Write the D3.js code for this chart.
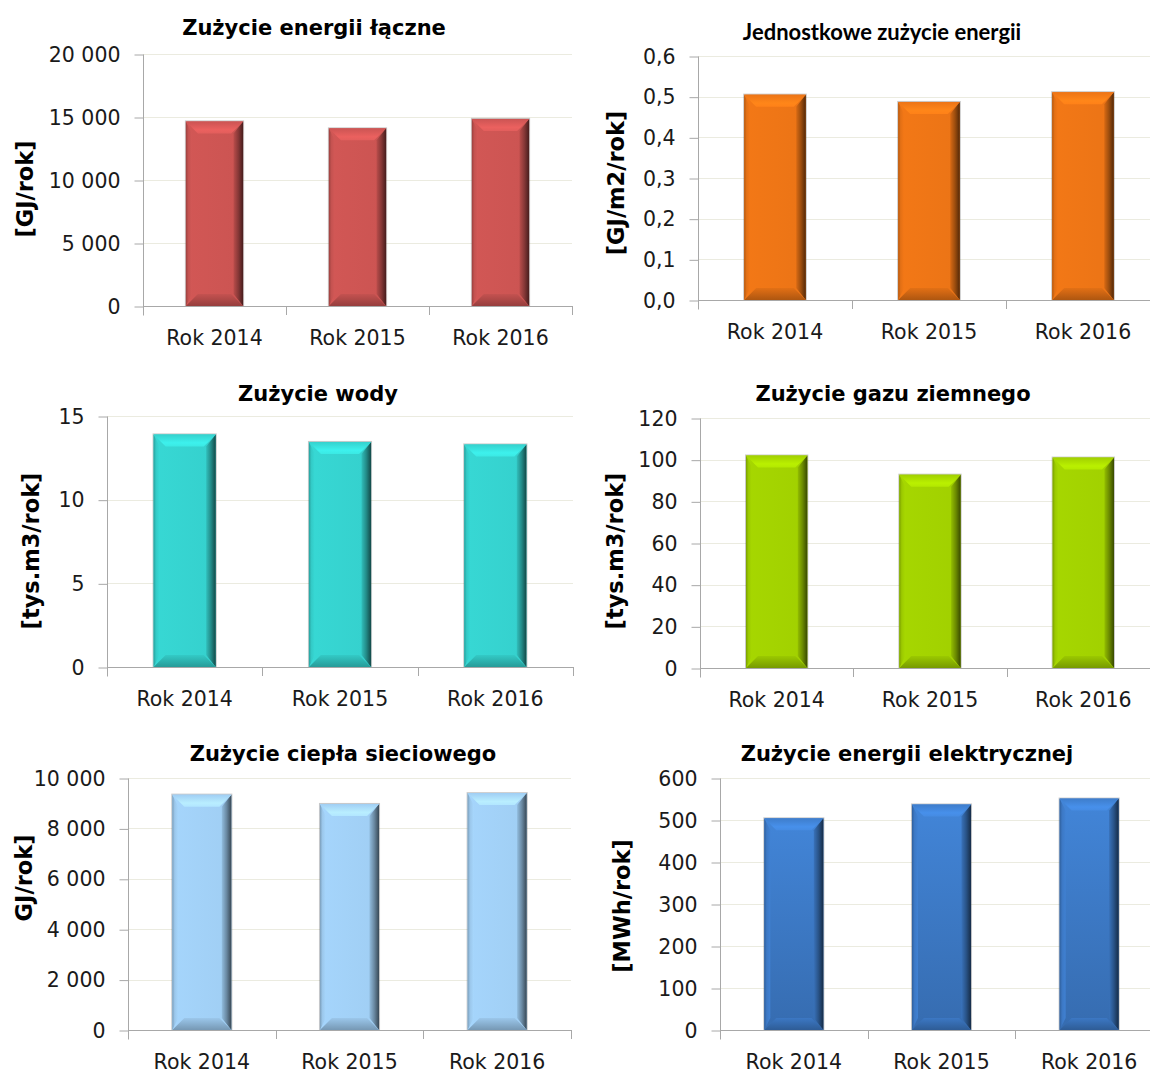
<!DOCTYPE html>
<html>
<head>
<meta charset="utf-8">
<script src="https://cdn.jsdelivr.net/npm/d3@7"></script>
<style>
  html, body { margin: 0; padding: 0; background: #fff; }
  svg { display: block; }
</style>
</head>
<body>
<svg id="chart" width="1150" height="1073"></svg>
<script>
// ---------- DATA ----------
const categories = ["Rok 2014", "Rok 2015", "Rok 2016"];

const energyTotal = [14650, 14100, 14850];      // GJ/rok
const energyUnit  = [0.505, 0.487, 0.511];      // GJ/m2/rok
const water       = [13.9, 13.45, 13.3];        // tys.m3/rok
const gas         = [102, 92.8, 101];           // tys.m3/rok
const heat        = [9340, 8970, 9400];         // GJ/rok
const electricity = [504, 537, 551];            // MWh/rok

const ticksEnergyTotal = [0, 5000, 10000, 15000, 20000];
const ticksEnergyUnit  = [0, 0.1, 0.2, 0.3, 0.4, 0.5, 0.6];
const ticksWater       = [0, 5, 10, 15];
const ticksGas         = [0, 20, 40, 60, 80, 100, 120];
const ticksHeat        = [0, 2000, 4000, 6000, 8000, 10000];
const ticksElectricity = [0, 100, 200, 300, 400, 500, 600];

const titles = [
  "Zużycie energii łączne",
  "Jednostkowe zużycie energii",
  "Zużycie wody",
  "Zużycie gazu ziemnego",
  "Zużycie ciepła sieciowego",
  "Zużycie energii elektrycznej"
];
const unitLabels = ["[GJ/rok]", "[GJ/m2/rok]", "[tys.m3/rok]", "[tys.m3/rok]", "GJ/rok]", "[MWh/rok]"];

// ---------- FORMAT ----------
const loc = d3.formatLocale({decimal: ",", thousands: " ", grouping: [3], currency: ["", ""]});
const fmtInt = loc.format(",d");
const fmt1 = loc.format(".1f");

// ---------- LAYOUT ----------
const panels = [
  {values: energyTotal, ticks: ticksEnergyTotal, fmt: fmtInt, color: "#cf5654",
   x0: 143, x1: 572, y0: 54, y1: 306, tx: 314, ty: 27, lx: 25, ly: 189, titleSmall: false},
  {values: energyUnit, ticks: ticksEnergyUnit, fmt: fmt1, color: "#f07616",
   x0: 698, x1: 1160, y0: 56, y1: 300, tx: 882, ty: 32, lx: 616, ly: 183, titleSmall: true},
  {values: water, ticks: ticksWater, fmt: fmtInt, color: "#36d5d1",
   x0: 107, x1: 573, y0: 416, y1: 667, tx: 318, ty: 393, lx: 31, ly: 551, titleSmall: false},
  {values: gas, ticks: ticksGas, fmt: fmtInt, color: "#a4d400",
   x0: 700, x1: 1160, y0: 418, y1: 668, tx: 893, ty: 393, lx: 615, ly: 551, titleSmall: false},
  {values: heat, ticks: ticksHeat, fmt: fmtInt, color: "#a3d2f8",
   x0: 128, x1: 571, y0: 778, y1: 1030, tx: 343, ty: 753, lx: 24, ly: 878, titleSmall: false},
  {values: electricity, ticks: ticksElectricity, fmt: fmtInt, color: "#3f7fcf", vgrad: true,
   x0: 720, x1: 1163, y0: 778, y1: 1030, tx: 907, ty: 753, lx: 622, ly: 906, titleSmall: false}
];

const svg = d3.select("#chart");
svg.append("rect").attr("width", 1150).attr("height", 1073).attr("fill", "#fff");
const defs = svg.append("defs");

const TICK_FONT = "'DejaVu Sans', Verdana, sans-serif";

function makeGrads(id, base, vgrad) {
  const c = d3.color(base);
  const main = defs.append("linearGradient").attr("id", id + "-main")
    .attr("x1", 0).attr("y1", 0).attr("x2", vgrad ? 0 : 1).attr("y2", vgrad ? 1 : 0);
  if (vgrad) {
    main.append("stop").attr("offset", "0%").attr("stop-color", c.brighter(0.12));
    main.append("stop").attr("offset", "100%").attr("stop-color", c.darker(0.45));
  } else {
    main.append("stop").attr("offset", "0%").attr("stop-color", c.brighter(0.04));
    main.append("stop").attr("offset", "100%").attr("stop-color", c.darker(0.06));
  }
  const right = defs.append("linearGradient").attr("id", id + "-right")
    .attr("x1", 0).attr("y1", 0).attr("x2", 1).attr("y2", 0);
  right.append("stop").attr("offset", "0%").attr("stop-color", c.darker(0.3));
  right.append("stop").attr("offset", "50%").attr("stop-color", c.darker(1.2));
  right.append("stop").attr("offset", "100%").attr("stop-color", c.darker(3.0));
  const left = defs.append("linearGradient").attr("id", id + "-left")
    .attr("x1", 0).attr("y1", 0).attr("x2", 1).attr("y2", 0);
  left.append("stop").attr("offset", "0%").attr("stop-color", c.darker(0.8));
  left.append("stop").attr("offset", "40%").attr("stop-color", c.darker(0.15));
  left.append("stop").attr("offset", "100%").attr("stop-color", c.brighter(0.05));
  const top = defs.append("linearGradient").attr("id", id + "-top")
    .attr("x1", 0).attr("y1", 0).attr("x2", 0).attr("y2", 1);
  top.append("stop").attr("offset", "0%").attr("stop-color", c.darker(0.05));
  top.append("stop").attr("offset", "70%").attr("stop-color", c.brighter(0.35));
  top.append("stop").attr("offset", "100%").attr("stop-color", c.brighter(0.25));
  const bot = defs.append("linearGradient").attr("id", id + "-bot")
    .attr("x1", 0).attr("y1", 0).attr("x2", 0).attr("y2", 1);
  bot.append("stop").attr("offset", "0%").attr("stop-color", c.darker(0.15));
  bot.append("stop").attr("offset", "100%").attr("stop-color", c.darker(0.9));
}

function bevelBar(g, x, y, w, h, id) {
  const b = Math.min(12, h / 2);
  const poly = pts => pts.map(p => p.join(",")).join(" ");
  g.append("rect").attr("x", x - 1).attr("y", y - 1).attr("width", w + 2).attr("height", h + 2)
    .attr("fill", "rgba(60,60,60,0.28)");
  g.append("rect").attr("x", x).attr("y", y).attr("width", w).attr("height", h)
    .attr("fill", `url(#${id}-main)`);
  g.append("polygon").attr("points", poly([[x, y], [x + b * 0.5, y + b], [x + b * 0.5, y + h - b], [x, y + h]]))
    .attr("fill", `url(#${id}-left)`);
  g.append("polygon").attr("points", poly([[x + w, y], [x + w - b * 0.8, y + b], [x + w - b * 0.8, y + h - b], [x + w, y + h]]))
    .attr("fill", `url(#${id}-right)`);
  g.append("polygon").attr("points", poly([[x, y], [x + w, y], [x + w - b, y + b], [x + b, y + b]]))
    .attr("fill", `url(#${id}-top)`);
  g.append("polygon").attr("points", poly([[x, y + h], [x + w, y + h], [x + w - b, y + h - b], [x + b, y + h - b]]))
    .attr("fill", `url(#${id}-bot)`);
}

panels.forEach((p, i) => {
  const g = svg.append("g");
  const id = "p" + i;
  makeGrads(id, p.color, p.vgrad);

  const y = d3.scaleLinear().domain([0, d3.max(p.ticks)]).range([p.y1, p.y0]);
  const x = d3.scaleBand().domain(categories).range([p.x0, p.x1]).paddingInner(0.6).paddingOuter(0.3);

  // gridlines
  g.append("g").selectAll("line").data(p.ticks.filter(t => t > 0)).join("line")
    .attr("x1", p.x0).attr("x2", p.x1)
    .attr("y1", d => Math.round(y(d)) + 0.5).attr("y2", d => Math.round(y(d)) + 0.5)
    .attr("stroke", "#ebebe0").attr("stroke-width", 1);

  // bars
  categories.forEach((c, k) => {
    const v = p.values[k];
    bevelBar(g, x(c), y(v), x.bandwidth(), y(0) - y(v), id);
  });

  // y axis
  const ya = g.append("g").attr("transform", `translate(${p.x0 + 0.5},0.5)`)
    .call(d3.axisLeft(y).tickValues(p.ticks).tickFormat(p.fmt).tickSizeInner(9).tickSizeOuter(0).tickPadding(14));
  ya.select(".domain").attr("stroke", "#a8a8a8").attr("d", `M0,${p.y0}V${p.y1 + 9}`);
  ya.selectAll(".tick line").attr("stroke", "#a8a8a8");
  ya.selectAll(".tick text").attr("font-family", TICK_FONT).attr("font-size", 20.5).attr("fill", "#1a1a1a");

  // x axis line + boundary ticks
  g.append("line").attr("x1", p.x0).attr("x2", p.x1)
    .attr("y1", Math.round(p.y1) + 0.5).attr("y2", Math.round(p.y1) + 0.5)
    .attr("stroke", "#a8a8a8");
  const bounds = categories.map(c => x(c) - x.step() * 0.3).concat([p.x1]);
  g.append("g").selectAll("line").data(bounds.slice(1)).join("line")
    .attr("x1", d => Math.round(d) + 0.5).attr("x2", d => Math.round(d) + 0.5)
    .attr("y1", p.y1).attr("y2", p.y1 + 9).attr("stroke", "#a8a8a8");

  // category labels
  g.append("g").selectAll("text").data(categories).join("text")
    .attr("x", c => x(c) + x.bandwidth() / 2).attr("y", p.y1 + 32)
    .attr("dy", "0.36em").attr("text-anchor", "middle")
    .attr("font-family", TICK_FONT).attr("font-size", 20.5).attr("fill", "#1a1a1a")
    .text(c => c);

  // title
  g.append("text").attr("x", p.tx).attr("y", p.ty).attr("dy", "0.36em").attr("text-anchor", "middle")
    .attr("font-family", p.titleSmall ? "Lato, 'Open Sans', sans-serif" : "'DejaVu Sans', Verdana, sans-serif")
    .attr("font-weight", "bold")
    .attr("font-size", p.titleSmall ? 22 : 21)
    .attr("fill", "#000")
    .text(titles[i]);

  // unit label
  g.append("text").attr("transform", `translate(${p.lx},${p.ly}) rotate(-90)`)
    .attr("dy", "0.36em").attr("text-anchor", "middle")
    .attr("font-family", "'DejaVu Sans', Verdana, sans-serif").attr("font-weight", "bold")
    .attr("font-size", 22.5).attr("fill", "#000")
    .text(unitLabels[i]);
});
</script>
</body>
</html>
